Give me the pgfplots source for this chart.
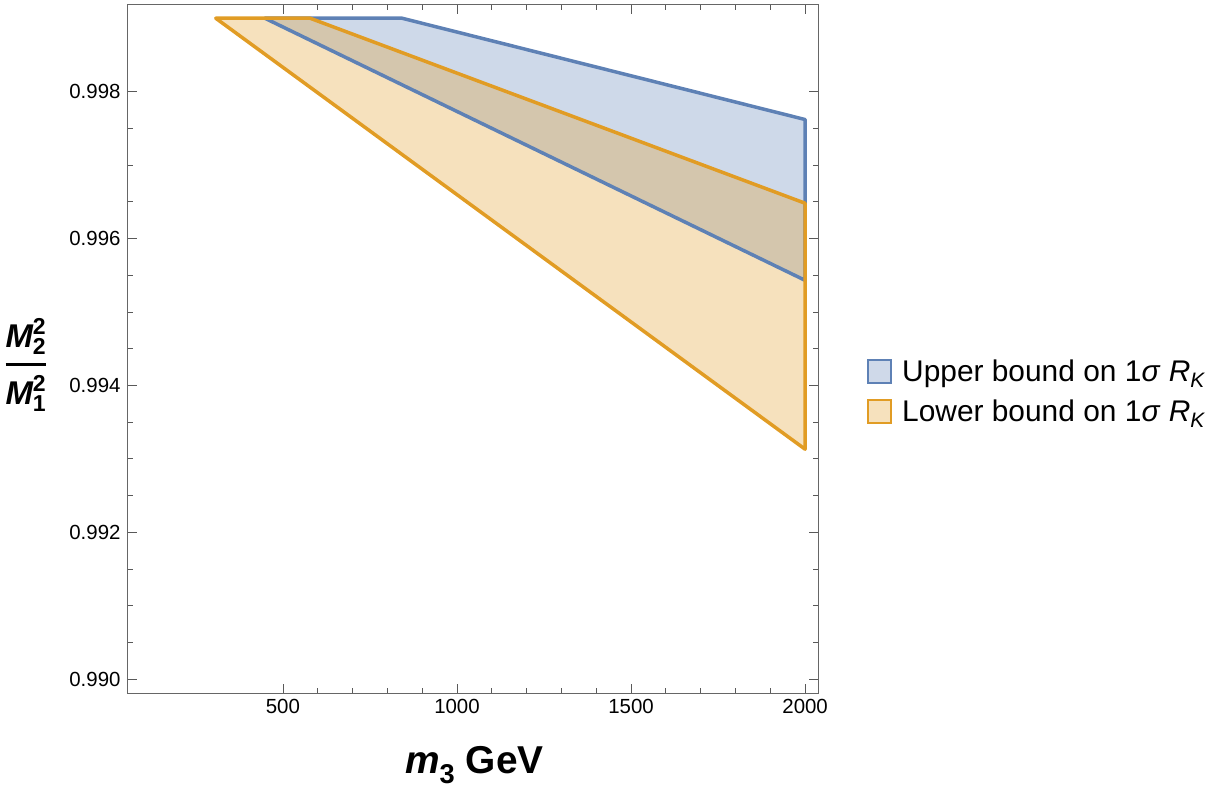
\documentclass[border=0pt]{standalone}
\usepackage{amsmath}
\usepackage{fontspec}
\setmainfont{Liberation Sans}
\usepackage{pgfplots}
\pgfplotsset{compat=1.18}
\definecolor{mblue}{rgb}{0.368417,0.506779,0.709798}
\definecolor{morange}{rgb}{0.880722,0.611041,0.142051}
\begin{document}
\begin{tikzpicture}
\path[use as bounding box] (-128bp,-97bp) rectangle (1094bp,693bp);
\begin{axis}[
  at={(0,0)}, anchor=south west,
  scale only axis, width=690bp, height=688bp,
  xmin=55, xmax=2037, ymin=0.98981, ymax=0.99918,
  xtick={500,1000,1500,2000}, minor x tick num=4,
  ytick={0.990,0.992,0.994,0.996,0.998}, minor y tick num=3,
  tick align=inside, major tick length=9bp, minor tick length=5bp,
  axis line style={black!60, line width=1bp},
  every tick/.style={black!65, line width=0.8bp},
  ticklabel style={font=\fontsize{20.5}{24}\selectfont},
  /pgf/number format/assume math mode=true,
  x tick label style={/pgf/number format/1000 sep={}, yshift=-3bp},
  y tick label style={/pgf/number format/.cd, fixed, fixed zerofill, precision=3, /tikz/.cd, xshift=-4bp},
  xlabel={\textbf{\textit{m}$_{\text{3}}$ GeV}},
  xlabel style={font=\fontsize{39}{46}\selectfont, at={(axis description cs:0.502,-0.105)}, anchor=center},
  ylabel={$\genfrac{}{}{3bp}{0}{\text{\bfseries\itshape M}^{\text{\bfseries 2}}_{\text{\bfseries 2}}}{\text{\bfseries\itshape M}^{\text{\bfseries 2}}_{\text{\bfseries 1}}}$},
  ylabel style={font=\fontsize{33}{38}\selectfont, rotate=-90, at={(axis description cs:-0.148,0.477)}, anchor=center},
  legend style={at={(1.0667,0.49)}, anchor=north west, draw=none, fill=none,
    font=\fontsize{30}{36}\selectfont, row sep=13bp,
    /tikz/every odd column/.append style={column sep=8bp}},
  legend cell align=left,
  legend image code/.code={\draw[#1, line width=2bp] (0bp,-11.5bp) rectangle (23bp,11.5bp);},
]
% filled regions
\addplot[fill=mblue, fill opacity=0.3, draw=none, forget plot]
  coordinates {(448,0.999) (842,0.999) (2000,0.99762) (2000,0.99543)} -- cycle;
\addplot[fill=morange, fill opacity=0.3, draw=none, forget plot]
  coordinates {(307,0.999) (578,0.999) (2000,0.99648) (2000,0.99313)} -- cycle;
% boundaries
\addplot[draw=mblue, line width=3.5bp, line join=round, forget plot]
  coordinates {(448,0.999) (842,0.999) (2000,0.99762) (2000,0.99543)} -- cycle;
\addplot[draw=morange, line width=3.5bp, line join=round, forget plot]
  coordinates {(307,0.999) (578,0.999) (2000,0.99648) (2000,0.99313)} -- cycle;
\addlegendimage{fill=mblue!30, draw=mblue}
\addlegendentry{Upper bound on 1\textit{σ} \textit{R}$_{\text{\itshape K}}$}
\addlegendimage{fill=morange!30, draw=morange}
\addlegendentry{Lower bound on 1\textit{σ} \textit{R}$_{\text{\itshape K}}$}
\end{axis}
\end{tikzpicture}
\end{document}
